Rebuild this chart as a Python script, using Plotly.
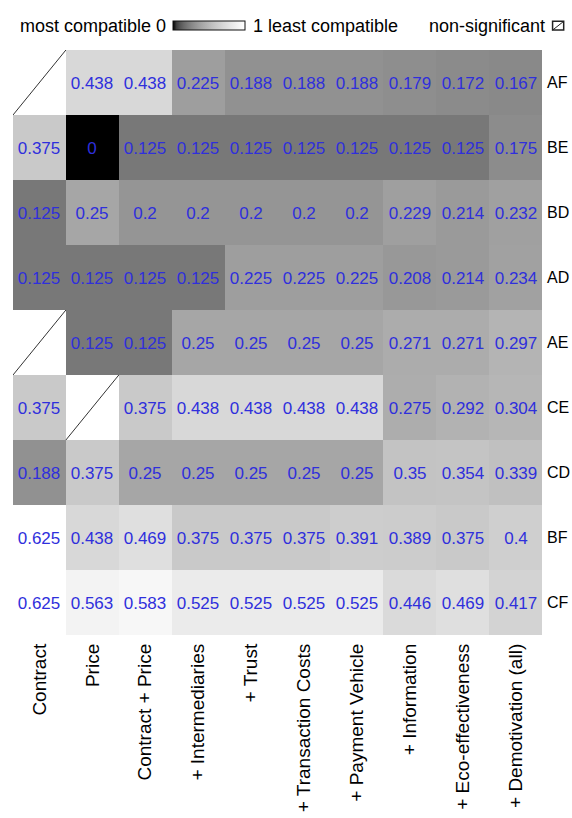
import plotly.graph_objects as go

# Model specifications (columns) and respondent groups (rows)
models = ["Contract", "Price", "Contract + Price", "+ Intermediaries", "+ Trust",
          "+ Transaction Costs", "+ Payment Vehicle", "+ Information",
          "+ Eco-effectiveness", "+ Demotivation (all)"]
groups = ["AF", "BE", "BD", "AD", "AE", "CE", "CD", "BF", "CF"]

# Compatibility scores; None marks a non-significant result
af = [None, 0.438, 0.438, 0.225, 0.188, 0.188, 0.188, 0.179, 0.172, 0.167]
be = [0.375, 0, 0.125, 0.125, 0.125, 0.125, 0.125, 0.125, 0.125, 0.175]
bd = [0.125, 0.25, 0.2, 0.2, 0.2, 0.2, 0.2, 0.229, 0.214, 0.232]
ad = [0.125, 0.125, 0.125, 0.125, 0.225, 0.225, 0.225, 0.208, 0.214, 0.234]
ae = [None, 0.125, 0.125, 0.25, 0.25, 0.25, 0.25, 0.271, 0.271, 0.297]
ce = [0.375, None, 0.375, 0.438, 0.438, 0.438, 0.438, 0.275, 0.292, 0.304]
cd = [0.188, 0.375, 0.25, 0.25, 0.25, 0.25, 0.25, 0.35, 0.354, 0.339]
bf = [0.625, 0.438, 0.469, 0.375, 0.375, 0.375, 0.391, 0.389, 0.375, 0.4]
cf = [0.625, 0.563, 0.583, 0.525, 0.525, 0.525, 0.525, 0.446, 0.469, 0.417]

scores = [af, be, bd, ad, ae, ce, cd, bf, cf]

FONT = "Liberation Sans, Arial, sans-serif"


def fmt(v):
    if v is None:
        return ""
    return f"{v:.3f}".rstrip("0").rstrip(".")


labels = [[fmt(v) for v in row] for row in scores]

# grey ramp with a gamma curve: black -> white
n = 20
greys = []
for i in range(n + 1):
    t = i / n
    g = round(255 * t ** 0.47)
    greys.append([t, f"rgb({g},{g},{g})"])

xs = list(range(len(models)))
ys = list(range(len(groups)))

fig = go.Figure()
fig.add_trace(go.Heatmap(
    z=scores, x=xs, y=ys,
    text=labels, texttemplate="%{text}",
    textfont=dict(family=FONT, size=17, color="#2f2fdc"),
    colorscale=greys, zmin=0, zmax=0.625, showscale=False,
    hoverongaps=False,
))

LEG_Y = 1.041

# legend gradient bar
fig.add_trace(go.Scatter(
    x=[None], y=[None], mode="markers", showlegend=False,
    marker=dict(color=[0, 1], cmin=0, cmax=1, colorscale=greys, showscale=True,
                colorbar=dict(orientation="h", lenmode="pixels", len=72,
                              thickness=9, x=0.3696, xanchor="center",
                              y=LEG_Y, yanchor="middle", yref="paper",
                              xpad=0, ypad=0,
                              outlinecolor="#111111", outlinewidth=1,
                              showticklabels=False, ticks="")),
))

# diagonal strokes for non-significant cells
shapes = []
for r, row in enumerate(scores):
    for c, v in enumerate(row):
        if v is None:
            shapes.append(dict(type="line", xref="x", yref="y",
                               x0=c - 0.5, y0=r + 0.5, x1=c + 0.5, y1=r - 0.5,
                               line=dict(color="#333333", width=1)))

# non-significant legend glyph
shapes.append(dict(type="rect", xref="paper", yref="paper",
                   x0=1.020, x1=1.041, y0=1.034, y1=1.049,
                   line=dict(color="#222222", width=1.5), fillcolor="white"))
shapes.append(dict(type="line", xref="paper", yref="paper",
                   x0=1.020, x1=1.041, y0=1.034, y1=1.049,
                   line=dict(color="#222222", width=1)))

annotations = [
    dict(text="most compatible 0", xref="paper", yref="paper", x=0.293, y=LEG_Y,
         xanchor="right", yanchor="middle", showarrow=False,
         font=dict(family=FONT, size=18, color="black")),
    dict(text="1 least compatible", xref="paper", yref="paper", x=0.449, y=LEG_Y,
         xanchor="left", yanchor="middle", showarrow=False,
         font=dict(family=FONT, size=18, color="black")),
    dict(text="non-significant", xref="paper", yref="paper", x=1.010, y=LEG_Y,
         xanchor="right", yanchor="middle", showarrow=False,
         font=dict(family=FONT, size=18, color="black")),
]

fig.update_layout(
    width=572, height=818,
    margin=dict(l=13, r=30, t=50, b=183, autoexpand=False),
    paper_bgcolor="white", plot_bgcolor="white",
    shapes=shapes, annotations=annotations,
    xaxis=dict(tickvals=xs, ticktext=models, tickangle=-90, range=[-0.5, 9.5],
               showgrid=False, zeroline=False, ticks="", ticklabelstandoff=4,
               automargin=False,
               tickfont=dict(family=FONT, size=19, color="black")),
    yaxis=dict(tickvals=ys, ticktext=groups, range=[8.5, -0.5], side="right",
               showgrid=False, zeroline=False, ticks="", ticklabelstandoff=4,
               automargin=False,
               tickfont=dict(family=FONT, size=16, color="black")),
)

fig.write_html("out.html")
